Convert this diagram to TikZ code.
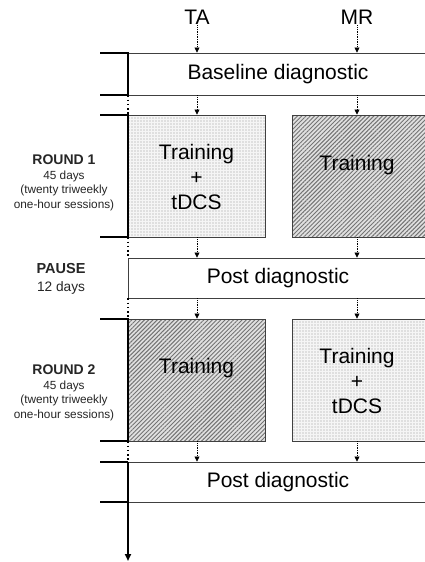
\documentclass[tikz,border=0pt]{standalone}
\usepackage{fontspec}
\setmainfont{Liberation Sans}
\usetikzlibrary{patterns.meta,arrows.meta}
\begin{document}
\begin{tikzpicture}[x=1pt,y=-1pt,
  boxline/.style={draw=black!75,line width=0.9pt},
  bigtxt/.style={font=\fontsize{21}{25}\selectfont,align=center,inner sep=0pt},
  hdr/.style={font=\fontsize{21}{25}\selectfont,inner sep=1pt},
  plainbox/.style={boxline,fill=white,inner sep=0pt},
  dotbox/.style={boxline,inner sep=0pt,preaction={fill=black!4},
    pattern={Dots[radius=0.55pt,distance=3pt]},pattern color=black!40},
  hatchbox/.style={boxline,inner sep=0pt,preaction={fill=black!12},
    pattern={Lines[angle=45,distance=3pt,line width=0.95pt]},pattern color=black!55},
  darr/.style={densely dotted,line width=0.7pt,-{Triangle[length=5pt,width=5pt]}},
  bracket/.style={line width=2pt,black},
  gap/.style={line width=2pt,black,dash pattern=on 1.6pt off 2.6pt},
  lefttxt/.style={font=\fontsize{11.8}{14.5}\selectfont,align=center,inner sep=0pt,text=black!85},
]
\clip (0,0) rectangle (425,562);
\fill[white] (0,0) rectangle (425,562);

% headers
\node[hdr] (TA) at (197,17) {TA};
\node[hdr] (MR) at (357,17) {MR};

% boxes
\node[plainbox,minimum width=300pt,minimum height=42pt,font=\fontsize{21}{25}\selectfont] (base) at (278,74) {Baseline diagnostic};
\node[dotbox,minimum width=137pt,minimum height=122pt] (r1a) at (196.5,176) {};
\node[hatchbox,minimum width=140pt,minimum height=122pt] (r1b) at (362,176) {};
\node[plainbox,minimum width=300pt,minimum height=40pt,font=\fontsize{21}{25}\selectfont] (post1) at (278,278) {Post diagnostic};
\node[hatchbox,minimum width=137pt,minimum height=122pt] (r2a) at (196.5,380) {};
\node[dotbox,minimum width=140pt,minimum height=122pt] (r2b) at (362,380) {};
\node[plainbox,minimum width=300pt,minimum height=40pt,font=\fontsize{21}{25}\selectfont] (post2) at (278,482) {Post diagnostic};

% box texts
\node[bigtxt] (t1a) at (196.5,177) {Training\\+\\tDCS};
\node[bigtxt] (t1b) at (357,165) {Training};
\node[bigtxt] (t2a) at (196.5,368) {Training};
\node[bigtxt] (t2b) at (357,381) {Training\\+\\tDCS};

% arrows
\coordinate (colA) at (197,0);
\coordinate (colB) at (357,0);
\draw[darr] (TA.south) -- (TA.south |- base.north);
\draw[darr] (MR.south) -- (MR.south |- base.north);
\draw[darr] (colA |- base.south) -- (colA |- r1a.north);
\draw[darr] (colB |- base.south) -- (colB |- r1b.north);
\draw[darr] (colA |- r1a.south) -- (colA |- post1.north);
\draw[darr] (colB |- r1b.south) -- (colB |- post1.north);
\draw[darr] (colA |- post1.south) -- (colA |- r2a.north);
\draw[darr] (colB |- post1.south) -- (colB |- r2b.north);
\draw[darr] (colA |- r2a.south) -- (colA |- post2.north);
\draw[darr] (colB |- r2b.south) -- (colB |- post2.north);

% left time line
\coordinate (L) at (128,0);
\coordinate (T) at (100,0);
\draw[bracket] (T |- base.north) -- (L |- base.north) -- (L |- base.south) -- (T |- base.south);
\draw[gap] (L |- base.south) -- (L |- r1a.north);
\draw[bracket] (T |- r1a.north) -- (L |- r1a.north) -- (L |- r1a.south) -- (T |- r1a.south);
\draw[gap] (L |- r1a.south) -- (L |- post1.north);
\draw[gap] (L |- post1.south) -- (L |- r2a.north);
\draw[bracket] (T |- r2a.north) -- (L |- r2a.north) -- (L |- r2a.south) -- (T |- r2a.south);
\draw[gap] (L |- r2a.south) -- (L |- post2.north);
\coordinate (endarrow) at (128,561);
\draw[bracket] (T |- post2.north) -- (L |- post2.north);
\draw[bracket] (T |- post2.south) -- (L |- post2.south);
\draw[bracket,-{Triangle[length=7pt,width=6pt]}] (L |- post2.north) -- (endarrow);

% left labels
\node[lefttxt] (lr1) at (64,183) {{\bfseries\fontsize{14}{16}\selectfont ROUND 1}\\45 days\\(twenty triweekly\\one-hour sessions)};
\node[lefttxt,font=\fontsize{13.7}{18}\selectfont] (lp) at (61,279) {{\bfseries\fontsize{14.5}{18}\selectfont PAUSE}\\12 days};
\node[lefttxt] (lr2) at (64,393) {{\bfseries\fontsize{14}{16}\selectfont ROUND 2}\\45 days\\(twenty triweekly\\one-hour sessions)};
\end{tikzpicture}
\end{document}
